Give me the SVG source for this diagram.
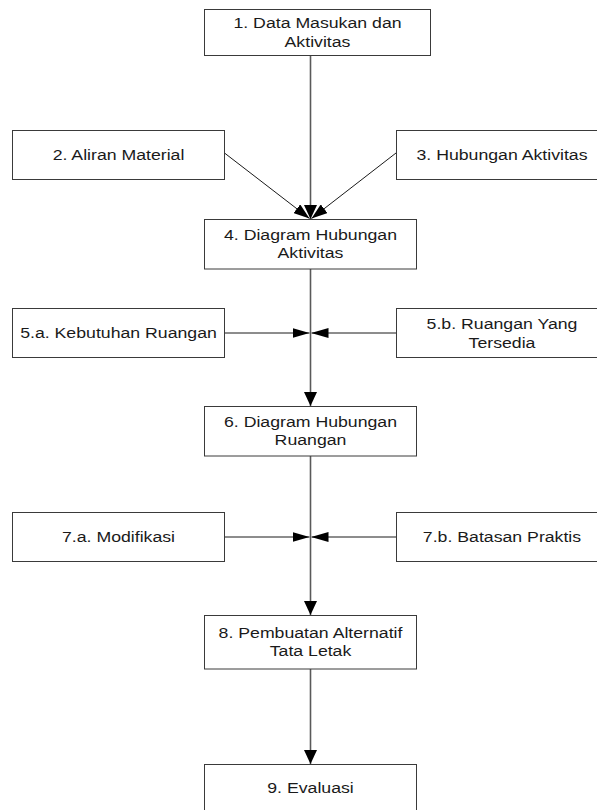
<svg xmlns="http://www.w3.org/2000/svg" width="597" height="810" viewBox="0 0 597 810">
<style>
.box{fill:#fff;stroke:#3a3a3a;stroke-width:1}
.t{font-family:"Liberation Sans",Arial,sans-serif;font-size:15px;fill:#1a1a1a;text-anchor:middle}
.main{stroke:#5a5a5a;stroke-width:1.6;fill:none}
.side{stroke:#1a1a1a;stroke-width:1;fill:none}
</style>
<defs>
<marker id="av" markerUnits="userSpaceOnUse" viewBox="0 0 14 13" markerWidth="14" markerHeight="13" refX="14" refY="6.5" orient="auto"><path d="M0,0 L14,6.5 L0,13 z" fill="#000"/></marker>
<marker id="ah" markerUnits="userSpaceOnUse" viewBox="0 0 17 10" markerWidth="17" markerHeight="10" refX="17" refY="5" orient="auto"><path d="M0,0 L17,5 L0,10 z" fill="#000"/></marker>
<marker id="ad" markerUnits="userSpaceOnUse" viewBox="0 0 16 11" markerWidth="16" markerHeight="11" refX="16" refY="5.5" orient="auto"><path d="M0,0 L16,5.5 L0,11 z" fill="#000"/></marker>
</defs>
<g id="connectors">
<line class="main" x1="310.5" y1="55" x2="310.5" y2="219" marker-end="url(#av)"/>
<line class="side" x1="224.5" y1="153" x2="309.5" y2="218.5" marker-end="url(#ad)"/>
<line class="side" x1="396" y1="153" x2="311.5" y2="218.5" marker-end="url(#ad)"/>
<line class="main" x1="310.5" y1="269" x2="310.5" y2="406" marker-end="url(#av)"/>
<line class="side" x1="224.5" y1="333" x2="309.5" y2="333" marker-end="url(#ah)"/>
<line class="side" x1="396" y1="333" x2="311.5" y2="333" marker-end="url(#ah)"/>
<line class="main" x1="310.5" y1="456" x2="310.5" y2="615" marker-end="url(#av)"/>
<line class="side" x1="224.5" y1="537" x2="309.5" y2="537" marker-end="url(#ah)"/>
<line class="side" x1="396" y1="537" x2="311.5" y2="537" marker-end="url(#ah)"/>
<line class="main" x1="310.5" y1="669" x2="310.5" y2="764" marker-end="url(#av)"/>
</g>
<g id="n1"><rect class="box" x="204.5" y="9.5" width="226" height="46"/>
<text class="t" transform="translate(317.5,28) scale(1.18,1)">1. Data Masukan dan</text>
<text class="t" transform="translate(317.5,46.5) scale(1.18,1)">Aktivitas</text></g>
<g id="n2"><rect class="box" x="12.5" y="130.5" width="212" height="49"/>
<text class="t" transform="translate(118.5,160) scale(1.18,1)">2. Aliran Material</text></g>
<g id="n3"><rect class="box" x="396.5" y="130.5" width="213" height="49"/>
<text class="t" transform="translate(502,160) scale(1.18,1)">3. Hubungan Aktivitas</text></g>
<g id="n4"><rect class="box" x="204.5" y="219.5" width="212" height="49.5"/>
<text class="t" transform="translate(310.5,239.5) scale(1.18,1)">4. Diagram Hubungan</text>
<text class="t" transform="translate(310.5,258) scale(1.18,1)">Aktivitas</text></g>
<g id="n5a"><rect class="box" x="12.5" y="308.5" width="212" height="49"/>
<text class="t" transform="translate(118.5,338) scale(1.18,1)">5.a. Kebutuhan Ruangan</text></g>
<g id="n5b"><rect class="box" x="396.5" y="308.5" width="213" height="49"/>
<text class="t" transform="translate(502,329) scale(1.18,1)">5.b. Ruangan Yang</text>
<text class="t" transform="translate(502,347.5) scale(1.18,1)">Tersedia</text></g>
<g id="n6"><rect class="box" x="204.5" y="406.5" width="212" height="49.5"/>
<text class="t" transform="translate(310.5,426.5) scale(1.18,1)">6. Diagram Hubungan</text>
<text class="t" transform="translate(310.5,445) scale(1.18,1)">Ruangan</text></g>
<g id="n7a"><rect class="box" x="12.5" y="512.5" width="212" height="49"/>
<text class="t" transform="translate(118.5,542) scale(1.18,1)">7.a. Modifikasi</text></g>
<g id="n7b"><rect class="box" x="396.5" y="512.5" width="213" height="49"/>
<text class="t" transform="translate(502,542) scale(1.18,1)">7.b. Batasan Praktis</text></g>
<g id="n8"><rect class="box" x="204.5" y="615.5" width="212" height="53.5"/>
<text class="t" transform="translate(310.5,637.5) scale(1.18,1)">8. Pembuatan Alternatif</text>
<text class="t" transform="translate(310.5,656) scale(1.18,1)">Tata Letak</text></g>
<g id="n9"><rect class="box" x="204.5" y="764.5" width="212" height="60"/>
<text class="t" transform="translate(310.5,793) scale(1.18,1)">9. Evaluasi</text></g>
</svg>
